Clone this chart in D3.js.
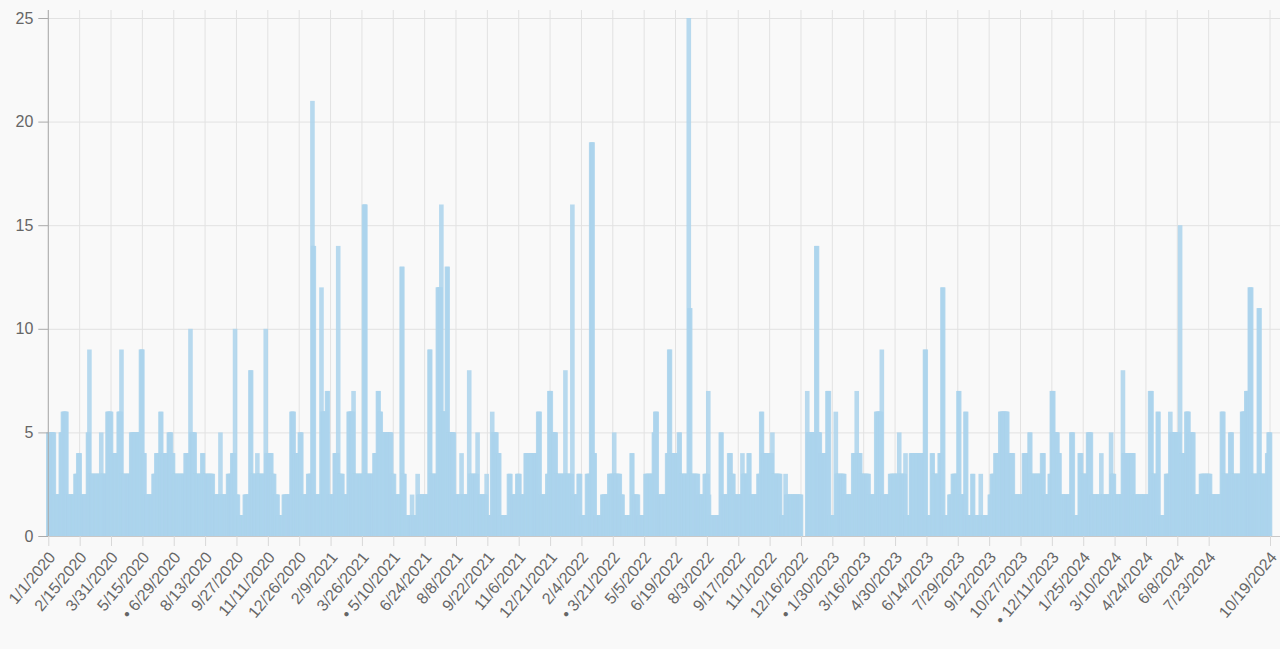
<!DOCTYPE html>
<html lang="en">
<head>
<meta charset="UTF-8">
<title>Daily counts 2020-2024</title>
<script src="https://d3js.org/d3.v7.min.js"></script>
<style>
  body { margin: 0; background: #f9f9f9; font-family: "Liberation Sans", Arial, Helvetica, sans-serif; }
  svg { display: block; }
  .tick text { fill: #666; font-size: 16px; }
</style>
</head>
<body>
<div id="chart"></div>
<script>
// daily values, as [value, number of days] runs, one array per year
const runs2020 = [[5,9],[2,9],[5,3],[6,6],[2,12],[3,4],[4,3],[2,11],[5,2],[9,1],[3,16],[5,1],[3,8],[6,6],[4,10],[6,4],[9,1],[3,13],[5,14],[9,3],[4,3],[2,12],[3,4],[4,6],[6,2],[4,10],[5,4],[4,3],[3,17],[4,7],[10,1],[5,6],[3,10],[4,2],[3,14],[2,10],[5,1],[2,10],[3,6],[4,4],[10,1],[2,4],[1,9],[2,8],[8,2],[3,8],[4,1],[3,11],[10,1],[4,8],[3,4],[2,5],[1,8],[2,11],[6,4],[4,8],[5,3],[2,2]];
const runs2021 = [[2,7],[3,6],[21,1],[14,2],[2,10],[12,1],[6,7],[7,2],[2,9],[4,5],[14,1],[3,6],[2,8],[6,7],[7,1],[3,14],[16,3],[3,12],[4,5],[7,2],[6,3],[5,15],[3,4],[2,10],[13,2],[3,3],[1,10],[2,1],[1,7],[3,1],[2,16],[9,2],[3,10],[12,5],[16,1],[6,7],[13,2],[5,9],[2,10],[4,1],[2,10],[8,1],[3,11],[5,1],[2,12],[3,1],[1,7],[6,1],[5,6],[4,4],[1,13],[3,3],[2,9],[3,4],[2,8],[4,18],[6,3],[2,10],[3,3],[7,3],[5,7],[3,2]];
const runs2022 = [[3,11],[8,1],[3,9],[16,1],[2,8],[3,3],[1,9],[3,6],[19,3],[4,3],[1,10],[2,10],[3,7],[5,1],[3,8],[2,4],[1,12],[4,2],[2,8],[1,10],[3,12],[5,2],[6,3],[2,14],[4,3],[9,2],[4,12],[5,2],[3,12],[25,1],[11,2],[3,11],[2,9],[3,5],[7,1],[2,1],[1,16],[5,2],[2,10],[4,3],[3,4],[2,12],[4,1],[3,8],[4,2],[2,12],[3,4],[6,2],[4,14],[5,1],[3,11],[1,7],[3,1],[2,22],[0,8],[7,1],[5,6]];
const runs2023 = [[5,6],[14,2],[5,4],[4,10],[7,3],[1,9],[6,1],[3,12],[2,12],[4,5],[7,1],[4,5],[3,12],[2,10],[6,8],[9,1],[2,11],[3,13],[5,1],[3,8],[4,1],[1,7],[4,20],[9,2],[1,8],[4,2],[3,9],[4,4],[12,2],[1,8],[2,5],[3,8],[7,2],[2,8],[6,2],[1,8],[3,2],[1,10],[3,1],[1,12],[2,3],[3,5],[4,7],[6,11],[4,8],[2,15],[4,8],[5,2],[3,16],[4,3],[2,8],[3,3],[7,3],[5,6],[4,3],[2,9]];
const runs2024 = [[2,7],[5,3],[1,9],[4,3],[3,9],[5,5],[2,14],[4,1],[2,13],[5,1],[3,4],[2,12],[8,1],[4,15],[2,23],[7,3],[3,8],[6,2],[1,10],[3,6],[6,1],[5,13],[15,1],[4,8],[6,4],[5,7],[2,10],[3,14],[2,16],[6,3],[3,9],[5,3],[3,14],[6,6],[7,5],[12,3],[3,10],[11,2],[3,10],[4,2],[5,3]];

const firstDay = new Date(2020, 0, 1);
const lastDay = new Date(2024, 9, 19);

const tickLabels = ["1/1/2020","2/15/2020","3/31/2020","5/15/2020","• 6/29/2020","8/13/2020","9/27/2020","11/11/2020","12/26/2020",
  "2/9/2021","3/26/2021","• 5/10/2021","6/24/2021","8/8/2021","9/22/2021","11/6/2021","12/21/2021",
  "2/4/2022","• 3/21/2022","5/5/2022","6/19/2022","8/3/2022","9/17/2022","11/1/2022","12/16/2022",
  "• 1/30/2023","3/16/2023","4/30/2023","6/14/2023","7/29/2023","9/12/2023","10/27/2023","• 12/11/2023",
  "1/25/2024","3/10/2024","4/24/2024","6/8/2024","7/23/2024","10/19/2024"];
const yTicks = [0, 5, 10, 15, 20, 25];

const W = 1280, H = 649;
const plotLeft = 48.3, lastX = 1270, plotRight = 1280, plotTop = 10, y25 = 18, plotBase = 536;
const barW = 4.6;

const fmt = d3.timeFormat("%-m/%-d/%Y");
const days = d3.timeDay.range(firstDay, d3.timeDay.offset(lastDay, 1)).map(fmt);
const counts = [runs2020, runs2021, runs2022, runs2023, runs2024]
  .flatMap(r => r.flatMap(([v, n]) => Array(n).fill(v)));
const data = days.map((d, i) => ({ day: d, value: counts[i] }));
console.log("days", days.length, "values", counts.length);

const svg = d3.select("#chart").append("svg")
  .attr("width", W).attr("height", H);

const x = d3.scalePoint().domain(days).range([plotLeft, lastX]);
const y = d3.scaleLinear().domain([0, 25]).range([plotBase, y25]);

const tickDays = tickLabels.map(t => t.replace("• ", ""));

// grid
svg.append("g").selectAll("line").data(yTicks).join("line")
  .attr("x1", plotLeft).attr("x2", plotRight)
  .attr("y1", d => y(d) + 0.5).attr("y2", d => y(d) + 0.5)
  .attr("stroke", "#e2e2e2");
svg.append("g").selectAll("line").data(tickDays).join("line")
  .attr("x1", d => x(d)).attr("x2", d => x(d))
  .attr("y1", plotTop).attr("y2", plotBase)
  .attr("stroke", "#e2e2e2");

// bars
svg.append("g").selectAll("rect").data(data.filter(d => d.value > 0)).join("rect")
  .attr("x", d => x(d.day) - barW / 2)
  .attr("width", barW)
  .attr("y", d => y(d.value))
  .attr("height", d => plotBase - y(d.value))
  .attr("fill", "#abd3ec")
  .attr("fill-opacity", 0.85);

// axis lines
svg.append("line").attr("x1", plotLeft).attr("x2", plotLeft).attr("y1", plotTop).attr("y2", plotBase)
  .attr("stroke", "#aaa");
svg.append("line").attr("x1", plotLeft).attr("x2", plotRight).attr("y1", plotBase + 0.5).attr("y2", plotBase + 0.5)
  .attr("stroke", "#c8c8c8");

// y axis
const yAxis = svg.append("g").attr("transform", `translate(${plotLeft},0)`)
  .call(d3.axisLeft(y).tickValues(yTicks).tickSize(10).tickPadding(5));
yAxis.select(".domain").remove();
yAxis.selectAll(".tick line").attr("stroke", "#aaa");

// x axis
const xAxis = svg.append("g").attr("transform", `translate(0,${plotBase})`)
  .call(d3.axisBottom(x).tickValues(tickDays).tickSize(10).tickFormat((d, i) => tickLabels[i]));
xAxis.select(".domain").remove();
xAxis.selectAll(".tick line").attr("stroke", "#d8d8d8");
xAxis.selectAll(".tick text")
  .attr("x", 0).attr("y", 0).attr("dy", "0.35em")
  .attr("text-anchor", "end")
  .attr("transform", "translate(3,18) rotate(-50)");
</script>
</body>
</html>
